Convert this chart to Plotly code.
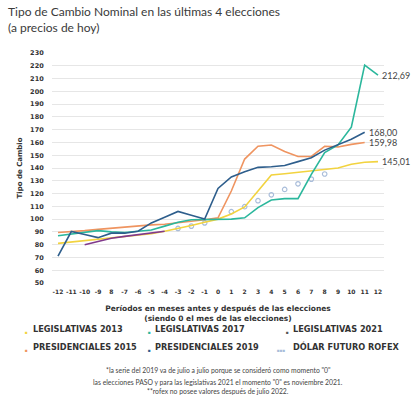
import plotly.graph_objects as go

# meses respecto de la eleccion (0 = mes de la eleccion)
months = list(range(-12, 13))
tick_text = ['-12', '-11', '-10', '-9', '8', '-7', '-6', '-5', '-4', '-3', '-2', '-1',
             '0', '1', '2', '3', '4', '5', '6', '7', '8', '9', '10', '11', '12']

leg_2013 = [81, 82, 83.5, 84.5, 85.5, 86.5, 87.5, 88.5, 90.5, 92.5, 95, 97.5,
            100, 104, 109.5, 122, 134.5, 135.5, 136.5, 137.5, 139, 140, 143, 144.5, 145.01]
leg_2017 = [87, 88.5, 90, 91, 90, 89.5, 90.5, 91.5, 94.5, 97.5, 99.5, 99.5,
            100, 100, 101, 109, 115, 116, 116, 135, 152, 158, 172, 220.5, 212.69]
leg_2021 = [None, None, 80, 82.5, 85, 86.5, 88, 89, 90.5, None, None, None,
            None, None, None, None, None, None, None, None, None, None, None, None, None]
pres_2015 = [89.5, 90, 91, 92, 93, 94, 94.5, 95.5, 96, 97, 98, 99.5,
             101, 122, 147, 157, 158, 153, 149, 149, 157, 156.5, 158.5, 159.98, None]
pres_2019 = [71, 90.3, 88, 85.5, 89, 89, 90.5, 97, 101.5, 106, 103, 100,
             124, 133, 137, 140.5, 141, 142, 145, 148, 154, 158, 162.5, 168.00, None]
rofex = [None, None, None, None, None, None, None, None, None, 92.7, 94.5, 97,
         None, 105.8, 109.7, 114.4, 119, 123.2, 127.6, 131.3, 135.3, None, None, None, None]

C_2013 = '#f2d33f'
C_2017 = '#2bb79c'
C_2021 = '#80398c'
C_2015 = '#ef9460'
C_2019 = '#2e5e8c'
C_ROFEX = '#a9bdda'

# plot area in pixels (420x403 page)
L, R, T, B = 52, 384, 53, 283


def px_x(px):
    return (px - L) / (R - L)


def px_y(py):
    return (B - py) / (B - T)


fig = go.Figure()

fig.add_trace(go.Scatter(x=months, y=rofex, mode='markers', showlegend=False,
                         marker=dict(symbol='circle-open', size=4.5, color=C_ROFEX, line=dict(width=1.2))))

for vals, color in [(leg_2013, C_2013), (pres_2015, C_2015), (leg_2021, C_2021),
                    (leg_2017, C_2017), (pres_2019, C_2019)]:
    fig.add_trace(go.Scatter(x=months, y=vals, mode='lines', showlegend=False,
                             line=dict(color=color, width=1.6), hoverinfo='x+y'))

annotations = []

# etiquetas del ultimo valor
for vals in [leg_2017, pres_2019, pres_2015, leg_2013]:
    i = max(k for k, v in enumerate(vals) if v is not None)
    annotations.append(dict(x=months[i], y=vals[i], xref='x', yref='y', showarrow=False,
                            text=f'{vals[i]:.2f}'.replace('.', ','), xanchor='left', xshift=2,
                            font=dict(family='Lato', size=9, color='#444')))

# titulo
annotations.append(dict(x=px_x(6), y=px_y(2), xref='paper', yref='paper', showarrow=False,
                        text='Tipo de Cambio Nominal en las últimas 4 elecciones<br>(a precios de hoy)',
                        xanchor='left', yanchor='top', align='left',
                        font=dict(family='Lato', size=12, color='#3a3a3a')))

# leyenda manual
legend_items = [
    ('LEGISLATIVAS 2013', C_2013, 27, 31, 336),
    ('LEGISLATIVAS 2017', C_2017, 149, 153, 336),
    ('LEGISLATIVAS 2021', '#555555', 287, 291, 336),
    ('PRESIDENCIALES 2015', C_2015, 27, 31, 354),
    ('PRESIDENCIALES 2019', C_2019, 149, 153, 354),
]
for label, color, mx, tx, ty in legend_items:
    annotations.append(dict(x=px_x(mx), y=px_y(ty + 1), xref='paper', yref='paper', showarrow=False,
                            text='■', xanchor='center', font=dict(size=4.5, color=color)))
    annotations.append(dict(x=px_x(tx), y=px_y(ty), xref='paper', yref='paper', showarrow=False,
                            text=label, xanchor='left',
                            font=dict(family='DejaVu Sans', size=8.2, color='#333', weight='bold')))
annotations.append(dict(x=px_x(281), y=px_y(355), xref='paper', yref='paper', showarrow=False,
                        text='■■■', xanchor='center', font=dict(size=4.5, color=C_ROFEX)))
annotations.append(dict(x=px_x(291), y=px_y(354), xref='paper', yref='paper', showarrow=False,
                        text='DÓLAR FUTURO ROFEX', xanchor='left',
                        font=dict(family='DejaVu Sans', size=8.2, color='#333', weight='bold')))

# notas
notes = [
    ('*la serie del 2019 va de julio a julio porque se consideró como momento "0"', 375),
    ('las elecciones PASO y para las legislativas 2021 el momento "0" es noviembre 2021.', 387),
    ('**rofex no posee valores después de julio 2022.', 396),
]
for txt, ny in notes:
    annotations.append(dict(x=0.5, y=px_y(ny), xref='paper', yref='paper', showarrow=False,
                            text=txt, xanchor='center', borderpad=0,
                            font=dict(family='Lato', size=6.8, color='#444')))

fig.update_layout(
    width=420, height=403,
    margin=dict(l=L, r=420 - R, t=T, b=403 - B),
    paper_bgcolor='white', plot_bgcolor='white',
    showlegend=False,
    annotations=annotations,
    xaxis=dict(
        range=[-12.45, 12.45], tickmode='array', tickvals=months, ticktext=tick_text,
        showgrid=False, zeroline=False, showline=False,
        ticks='outside', ticklen=3, tickcolor='rgba(0,0,0,0)',
        tickfont=dict(family='DejaVu Sans', size=6, color='#333', weight='bold'),
        title=dict(text='Períodos en meses antes y después de las elecciones<br>(siendo 0 el mes de las elecciones)',
                   standoff=11,
                   font=dict(family='DejaVu Sans', size=7.5, color='#333', weight='bold')),
    ),
    yaxis=dict(
        range=[50, 230], tickmode='linear', tick0=50, dtick=10,
        showgrid=True, gridcolor='#e6e6e6', gridwidth=1, zeroline=False, showline=False,
        ticks='outside', ticklen=6, tickcolor='rgba(0,0,0,0)',
        tickfont=dict(family='DejaVu Sans', size=6.5, color='#333', weight='bold'),
        title=dict(text='Tipo de Cambio', standoff=6,
                   font=dict(family='DejaVu Sans', size=7, color='#333', weight='bold')),
    ),
)

fig.write_html('out.html', config={'displayModeBar': False},
               post_script="document.body.style.margin='0';")
